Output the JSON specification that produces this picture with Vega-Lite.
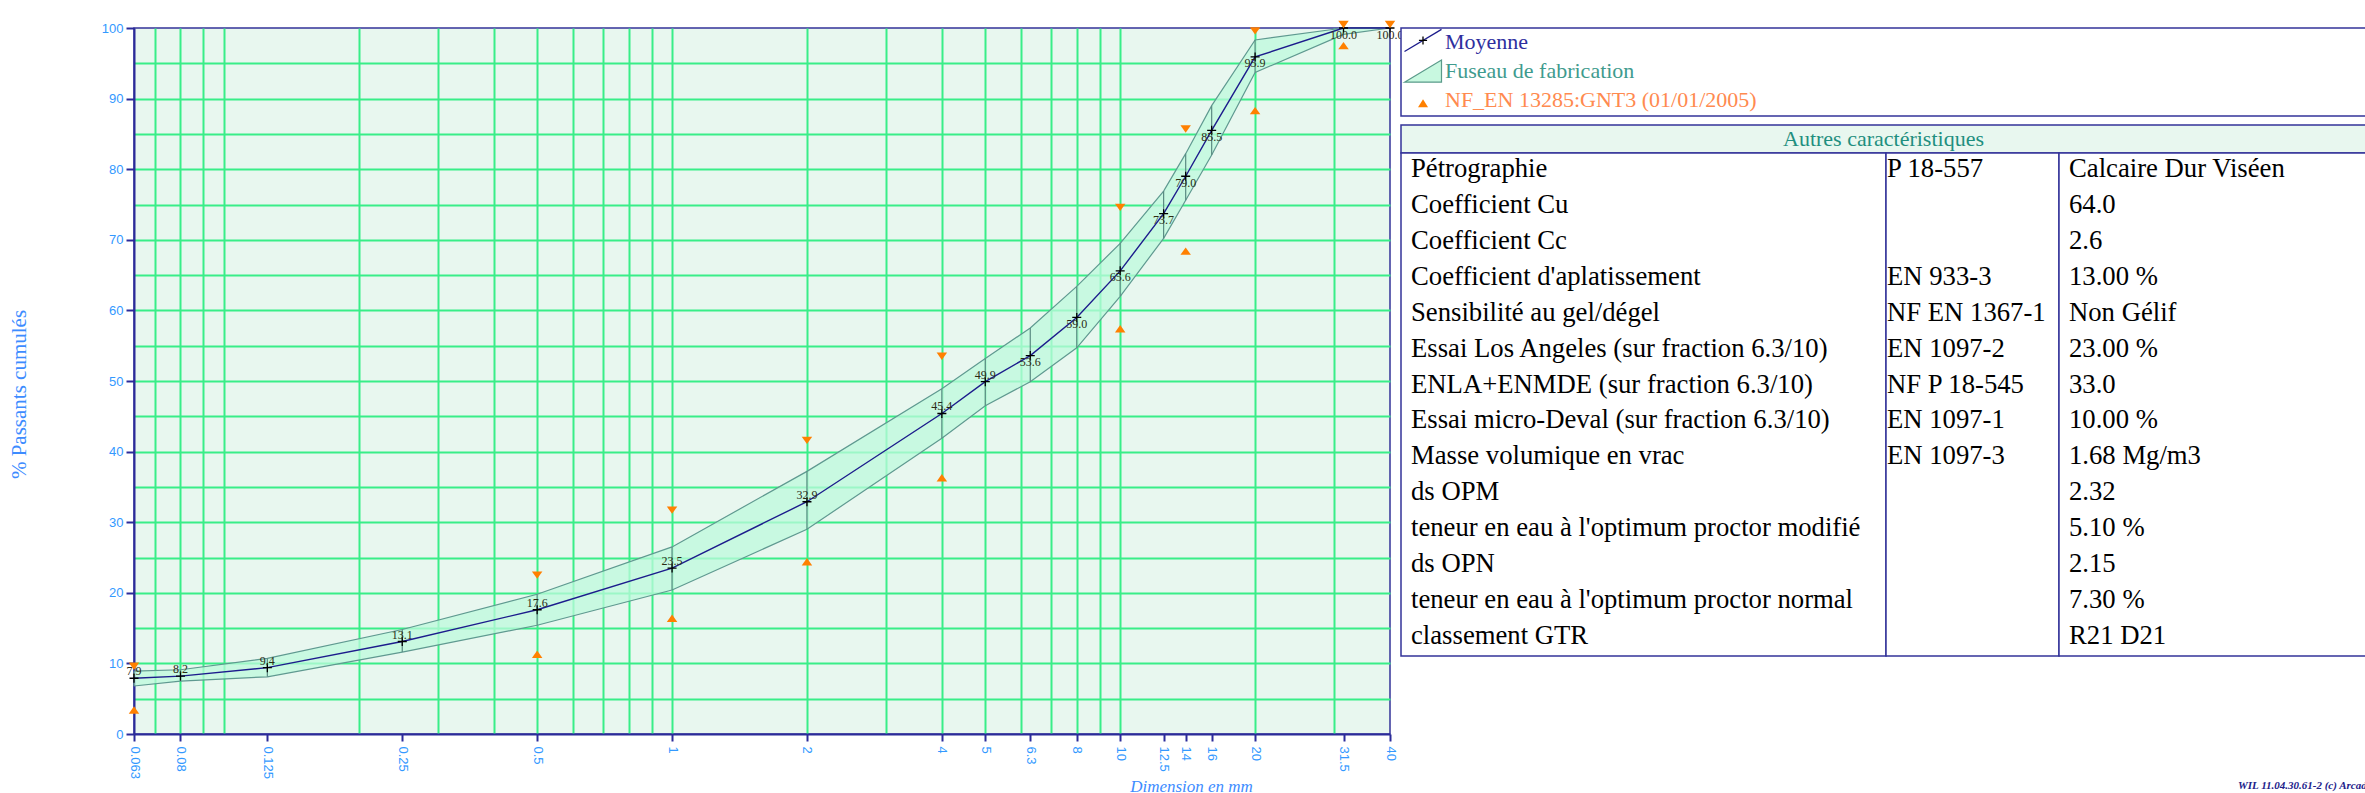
{
  "$schema": "https://vega.github.io/schema/vega-lite/v6.json",
  "background": "white",
  "padding": {"left": 7, "top": 20, "right": 0, "bottom": 0},
  "config": {"view": {"stroke": null}},
  "datasets": {
    "g": [
      {"d": 0.063, "moy": 7.9, "inf": 6.8, "sup": 8.9},
      {"d": 0.08, "moy": 8.2, "inf": 7.5, "sup": 9.1},
      {"d": 0.125, "moy": 9.4, "inf": 8.1, "sup": 10.7},
      {"d": 0.25, "moy": 13.1, "inf": 11.6, "sup": 14.8},
      {"d": 0.5, "moy": 17.6, "inf": 15.4, "sup": 19.8},
      {"d": 1, "moy": 23.5, "inf": 20.4, "sup": 26.5},
      {"d": 2, "moy": 32.9, "inf": 29.0, "sup": 37.2},
      {"d": 4, "moy": 45.4, "inf": 41.9, "sup": 48.9},
      {"d": 5, "moy": 49.9, "inf": 46.5, "sup": 53.2},
      {"d": 6.3, "moy": 53.6, "inf": 49.9, "sup": 57.5},
      {"d": 8, "moy": 59.0, "inf": 54.7, "sup": 63.4},
      {"d": 10, "moy": 65.6, "inf": 62.0, "sup": 69.5},
      {"d": 12.5, "moy": 73.7, "inf": 70.2, "sup": 76.9},
      {"d": 14, "moy": 79.0, "inf": 75.6, "sup": 82.2},
      {"d": 16, "moy": 85.5, "inf": 82.0, "sup": 89.0},
      {"d": 20, "moy": 95.9, "inf": 93.7, "sup": 98.3},
      {"d": 31.5, "moy": 100.0, "inf": 99.1, "sup": 100},
      {"d": 40, "moy": 100.0, "inf": 100, "sup": 100}
    ],
    "lim": [
      {"d": 0.063, "lim": 9.6, "t": "max"}, {"d": 0.063, "lim": 3.4, "t": "min"},
      {"d": 0.5, "lim": 22.5, "t": "max"}, {"d": 0.5, "lim": 11.3, "t": "min"},
      {"d": 1, "lim": 31.7, "t": "max"}, {"d": 1, "lim": 16.4, "t": "min"},
      {"d": 2, "lim": 41.6, "t": "max"}, {"d": 2, "lim": 24.4, "t": "min"},
      {"d": 4, "lim": 53.5, "t": "max"}, {"d": 4, "lim": 36.3, "t": "min"},
      {"d": 10, "lim": 74.6, "t": "max"}, {"d": 10, "lim": 57.4, "t": "min"},
      {"d": 14, "lim": 85.7, "t": "max"}, {"d": 14, "lim": 68.4, "t": "min"},
      {"d": 20, "lim": 99.6, "t": "max"}, {"d": 20, "lim": 88.3, "t": "min"},
      {"d": 31.5, "lim": 100.5, "t": "max"}, {"d": 31.5, "lim": 97.5, "t": "min"},
      {"d": 40, "lim": 100.5, "t": "max"}
    ],
    "leg": [
      {"e": "Moyenne"},
      {"e": "Fuseau de fabrication"},
      {"e": "NF_EN 13285:GNT3 (01/01/2005)"}
    ],
    "tab": [
      {"i": 1, "nom": "Pétrographie", "norme": "P 18-557", "val": "Calcaire Dur Viséen"},
      {"i": 2, "nom": "Coefficient Cu", "norme": "", "val": "64.0"},
      {"i": 3, "nom": "Coefficient Cc", "norme": "", "val": "2.6"},
      {"i": 4, "nom": "Coefficient d'aplatissement", "norme": "EN 933-3", "val": "13.00 %"},
      {"i": 5, "nom": "Sensibilité au gel/dégel", "norme": "NF EN 1367-1", "val": "Non Gélif"},
      {"i": 6, "nom": "Essai Los Angeles (sur fraction 6.3/10)", "norme": "EN 1097-2", "val": "23.00 %"},
      {"i": 7, "nom": "ENLA+ENMDE (sur fraction 6.3/10)", "norme": "NF P 18-545", "val": "33.0"},
      {"i": 8, "nom": "Essai micro-Deval (sur fraction 6.3/10)", "norme": "EN 1097-1", "val": "10.00 %"},
      {"i": 9, "nom": "Masse volumique en vrac", "norme": "EN 1097-3", "val": "1.68 Mg/m3"},
      {"i": 10, "nom": "ds OPM", "norme": "", "val": "2.32"},
      {"i": 11, "nom": "teneur en eau à l'optimum proctor modifié", "norme": "", "val": "5.10 %"},
      {"i": 12, "nom": "ds OPN", "norme": "", "val": "2.15"},
      {"i": 13, "nom": "teneur en eau à l'optimum proctor normal", "norme": "", "val": "7.30 %"},
      {"i": 14, "nom": "classement GTR", "norme": "", "val": "R21 D21"}
    ]
  },
  "title": {
    "text": "WIL 11.04.30.61-2 (c) Arcad",
    "orient": "bottom", "anchor": "end", "offset": -6, "baseline": "alphabetic",
    "font": "Liberation Serif", "fontSize": 11, "fontStyle": "italic", "fontWeight": "bold", "color": "#22228a"
  },
  "bounds": "flush",
  "spacing": 11,
  "hconcat": [
    {
      "width": 1256,
      "height": 706,
      "view": {"fill": "#e8f7ef", "stroke": "#333399", "strokeWidth": 1.5},
      "data": {"name": "g"},
      "resolve": {"axis": {"x": "independent", "y": "independent"}},
      "layer": [
        {
          "mark": {"type": "area", "fill": "#bdfadc", "fillOpacity": 0.75},
          "encoding": {
            "x": {"field": "d", "type": "quantitative",
                  "scale": {"type": "log", "domain": [0.063, 40], "nice": false},
                  "axis": {"orient": "top", "values": [0.07, 0.08, 0.09, 0.1, 0.2, 0.3, 0.4, 0.5, 0.6, 0.7, 0.8, 0.9, 1, 2, 3, 4, 5, 6, 7, 8, 9, 10, 20, 30],
                           "grid": true, "gridColor": "#38ee88", "gridWidth": 2, "gridOpacity": 1,
                           "labels": false, "ticks": false, "domain": false, "title": null}},
            "y": {"field": "sup", "type": "quantitative",
                  "scale": {"domain": [0, 100], "nice": false, "zero": false},
                  "axis": {"orient": "right", "values": [5, 10, 15, 20, 25, 30, 35, 40, 45, 50, 55, 60, 65, 70, 75, 80, 85, 90, 95],
                           "grid": true, "gridColor": "#38ee88", "gridWidth": 2, "gridOpacity": 1,
                           "labels": false, "ticks": false, "domain": false, "title": null}},
            "y2": {"field": "inf"}
          }
        },
        {
          "mark": {"type": "line", "stroke": "#5f9990", "strokeWidth": 1.2},
          "encoding": {
            "x": {"field": "d", "type": "quantitative", "scale": {"type": "log", "domain": [0.063, 40], "nice": false}, "axis": null},
            "y": {"field": "sup", "type": "quantitative", "scale": {"domain": [0, 100], "nice": false, "zero": false}, "axis": null}
          }
        },
        {
          "mark": {"type": "line", "stroke": "#5f9990", "strokeWidth": 1.2},
          "encoding": {
            "x": {"field": "d", "type": "quantitative", "scale": {"type": "log", "domain": [0.063, 40], "nice": false}, "axis": null},
            "y": {"field": "inf", "type": "quantitative", "scale": {"domain": [0, 100], "nice": false, "zero": false}, "axis": null}
          }
        },
        {
          "mark": {"type": "rule", "stroke": "#5a8a82", "strokeWidth": 1.2},
          "encoding": {
            "x": {"field": "d", "type": "quantitative", "scale": {"type": "log", "domain": [0.063, 40], "nice": false}, "axis": null},
            "y": {"field": "inf", "type": "quantitative", "scale": {"domain": [0, 100], "nice": false, "zero": false}, "axis": null},
            "y2": {"field": "sup"}
          }
        },
        {
          "mark": {"type": "line", "stroke": "#1c1c8c", "strokeWidth": 1.4},
          "encoding": {
            "x": {"field": "d", "type": "quantitative",
                  "scale": {"type": "log", "domain": [0.063, 40], "nice": false},
                  "axis": {"orient": "bottom", "values": [0.063, 0.08, 0.125, 0.25, 0.5, 1, 2, 4, 5, 6.3, 8, 10, 12.5, 14, 16, 20, 31.5, 40],
                           "format": "~g", "grid": false, "labelAngle": 90, "labelFont": "Liberation Sans", "labelFontSize": 13,
                           "labelColor": "#3399ff", "labelPadding": 5, "labelFlush": false, "labelOverlap": false, "labelBound": false,
                           "tickColor": "#2b2b99", "tickSize": 7, "tickWidth": 2, "domainColor": "#2b2b99", "domainWidth": 2,
                           "title": "Dimension en mm", "titleFont": "Liberation Serif", "titleFontStyle": "italic", "titleFontWeight": "normal",
                           "titleFontSize": 17, "titleColor": "#3d8cff", "titleX": 1057, "titleY": 57.5,
                           "titleAlign": "center", "titleBaseline": "alphabetic"}},
            "y": {"field": "moy", "type": "quantitative",
                  "scale": {"domain": [0, 100], "nice": false, "zero": false},
                  "axis": {"orient": "left", "values": [0, 10, 20, 30, 40, 50, 60, 70, 80, 90, 100], "grid": false,
                           "labelFont": "Liberation Sans", "labelFontSize": 13, "labelColor": "#3399ff", "labelPadding": 3,
                           "tickColor": "#2b2b99", "tickSize": 8, "tickWidth": 2, "domainColor": "#2b2b99", "domainWidth": 2,
                           "title": "% Passants cumulés", "titleFont": "Liberation Serif", "titleFontSize": 21, "titleFontWeight": "normal",
                           "titleColor": "#3d8cff", "titleAngle": 270, "titleX": -109, "titleY": 366,
                           "titleAlign": "center", "titleBaseline": "alphabetic"}}
          }
        },
        {
          "mark": {"type": "point", "shape": "M-1,0L1,0M0,-1L0,1", "filled": false, "stroke": "#000000", "strokeWidth": 1.3, "size": 81, "opacity": 1},
          "encoding": {
            "x": {"field": "d", "type": "quantitative", "scale": {"type": "log", "domain": [0.063, 40], "nice": false}, "axis": null},
            "y": {"field": "moy", "type": "quantitative", "scale": {"domain": [0, 100], "nice": false, "zero": false}, "axis": null}
          }
        },
        {
          "transform": [{"filter": "datum.moy < 50"}],
          "mark": {"type": "text", "align": "center", "baseline": "alphabetic", "dy": -3, "font": "Liberation Serif", "fontSize": 12, "color": "#2b2b14"},
          "encoding": {
            "x": {"field": "d", "type": "quantitative", "scale": {"type": "log", "domain": [0.063, 40], "nice": false}, "axis": null},
            "y": {"field": "moy", "type": "quantitative", "scale": {"domain": [0, 100], "nice": false, "zero": false}, "axis": null},
            "text": {"field": "moy", "type": "quantitative", "format": ".1f"}
          }
        },
        {
          "transform": [{"filter": "datum.moy >= 50"}],
          "mark": {"type": "text", "align": "center", "baseline": "alphabetic", "dy": 10.5, "font": "Liberation Serif", "fontSize": 12, "color": "#2b2b14"},
          "encoding": {
            "x": {"field": "d", "type": "quantitative", "scale": {"type": "log", "domain": [0.063, 40], "nice": false}, "axis": null},
            "y": {"field": "moy", "type": "quantitative", "scale": {"domain": [0, 100], "nice": false, "zero": false}, "axis": null},
            "text": {"field": "moy", "type": "quantitative", "format": ".1f"}
          }
        },
        {
          "data": {"name": "lim"},
          "mark": {"type": "point", "filled": true, "size": 110, "opacity": 1, "color": "#ff8000"},
          "encoding": {
            "x": {"field": "d", "type": "quantitative", "scale": {"type": "log", "domain": [0.063, 40], "nice": false}, "axis": null},
            "y": {"field": "lim", "type": "quantitative", "scale": {"domain": [0, 100], "nice": false, "zero": false}, "axis": null},
            "shape": {"field": "t", "type": "nominal", "legend": null,
                      "scale": {"domain": ["max", "min"], "range": ["M-1,-0.7L1,-0.7L0,0.7Z", "M0,-0.7L1,0.7L-1,0.7Z"]}}
          }
        }
      ]
    },
    {
      "bounds": "flush",
      "spacing": 9,
      "vconcat": [
        {
          "width": 965,
          "height": 88,
          "view": {"fill": "white", "stroke": "#333399", "strokeWidth": 1.5},
          "data": {"name": "leg"},
          "encoding": {
            "y": {"field": "e", "type": "nominal", "axis": null,
                  "scale": {"domain": ["Moyenne", "Fuseau de fabrication", "NF_EN 13285:GNT3 (01/01/2005)"], "paddingInner": 0, "paddingOuter": 0}}
          },
          "layer": [
            {
              "transform": [{"filter": "datum.e == 'Moyenne'"}],
              "mark": {"type": "point", "shape": "M-1,0.48L1,-0.72", "filled": false, "stroke": "#1c1c8c", "strokeWidth": 1.3, "size": 1369, "opacity": 1},
              "encoding": {"x": {"datum": "sym", "type": "nominal", "axis": null, "scale": {"type": "point", "domain": ["sym", "txt"], "range": [22, 44], "padding": 0}}}
            },
            {
              "transform": [{"filter": "datum.e == 'Moyenne'"}],
              "mark": {"type": "point", "shape": "M-0.22,-0.12L0.22,-0.12M0,-0.34L0,0.1", "filled": false, "stroke": "#000000", "strokeWidth": 1.3, "size": 1369, "opacity": 1},
              "encoding": {"x": {"datum": "sym", "type": "nominal", "axis": null, "scale": {"type": "point", "domain": ["sym", "txt"], "range": [22, 44], "padding": 0}}}
            },
            {
              "transform": [{"filter": "datum.e == 'Fuseau de fabrication'"}],
              "mark": {"type": "point", "shape": "M-1,0.55L1,-0.65L1,0.55Z", "filled": true, "fill": "#c8f8e0", "stroke": "#5a9a8a", "strokeWidth": 1.2, "size": 1369, "opacity": 1},
              "encoding": {"x": {"datum": "sym", "type": "nominal", "axis": null, "scale": {"type": "point", "domain": ["sym", "txt"], "range": [22, 44], "padding": 0}}}
            },
            {
              "transform": [{"filter": "datum.e == 'NF_EN 13285:GNT3 (01/01/2005)'"}],
              "mark": {"type": "point", "shape": "M0,-0.4L1,1.2L-1,1.2Z", "filled": true, "fill": "#ff8000", "size": 100, "opacity": 1},
              "encoding": {"x": {"datum": "sym", "type": "nominal", "axis": null, "scale": {"type": "point", "domain": ["sym", "txt"], "range": [22, 44], "padding": 0}}}
            },
            {
              "mark": {"type": "text", "align": "left", "baseline": "alphabetic", "dy": 6, "font": "Liberation Serif", "fontSize": 22},
              "encoding": {
                "x": {"datum": "txt", "type": "nominal", "axis": null, "scale": {"type": "point", "domain": ["sym", "txt"], "range": [22, 44], "padding": 0}},
                "text": {"field": "e"},
                "color": {"field": "e", "type": "nominal", "legend": null,
                          "scale": {"domain": ["Moyenne", "Fuseau de fabrication", "NF_EN 13285:GNT3 (01/01/2005)"], "range": ["#2e2e9e", "#3f9b8e", "#ff8a4f"]}}
              }
            }
          ]
        },
        {
          "bounds": "flush",
          "spacing": 0,
          "vconcat": [
            {
              "width": 965,
              "height": 28,
              "view": {"fill": "#e8f7ef", "stroke": "#333399", "strokeWidth": 1.5},
              "data": {"values": [{"t": "Autres caractéristiques"}]},
              "mark": {"type": "text", "align": "center", "baseline": "alphabetic", "dy": 7, "font": "Liberation Serif", "fontSize": 22, "color": "#1f8f80"},
              "encoding": {"text": {"field": "t"}}
            },
            {
              "bounds": "flush",
              "spacing": 0,
              "hconcat": [
                {
                  "width": 485,
                  "height": 503,
                  "view": {"fill": "white", "stroke": "#333399", "strokeWidth": 1.5},
                  "data": {"name": "tab"},
                  "mark": {"type": "text", "align": "left", "baseline": "alphabetic", "dy": 6, "font": "Liberation Serif", "fontSize": 26.7, "color": "#000000"},
                  "encoding": {
                    "y": {"field": "i", "type": "ordinal", "axis": null, "scale": {"paddingInner": 0, "paddingOuter": 0}},
                    "x": {"datum": "c", "type": "nominal", "axis": null, "scale": {"type": "point", "domain": ["c"], "range": [10, 10], "padding": 0}},
                    "text": {"field": "nom"}
                  }
                },
                {
                  "width": 173,
                  "height": 503,
                  "view": {"fill": "white", "stroke": "#333399", "strokeWidth": 1.5},
                  "data": {"name": "tab"},
                  "mark": {"type": "text", "align": "left", "baseline": "alphabetic", "dy": 6, "font": "Liberation Serif", "fontSize": 26.7, "color": "#000000"},
                  "encoding": {
                    "y": {"field": "i", "type": "ordinal", "axis": null, "scale": {"paddingInner": 0, "paddingOuter": 0}},
                    "x": {"datum": "c", "type": "nominal", "axis": null, "scale": {"type": "point", "domain": ["c"], "range": [1, 1], "padding": 0}},
                    "text": {"field": "norme"}
                  }
                },
                {
                  "width": 307,
                  "height": 503,
                  "view": {"fill": "white", "stroke": "#333399", "strokeWidth": 1.5},
                  "data": {"name": "tab"},
                  "mark": {"type": "text", "align": "left", "baseline": "alphabetic", "dy": 6, "font": "Liberation Serif", "fontSize": 26.7, "color": "#000000"},
                  "encoding": {
                    "y": {"field": "i", "type": "ordinal", "axis": null, "scale": {"paddingInner": 0, "paddingOuter": 0}},
                    "x": {"datum": "c", "type": "nominal", "axis": null, "scale": {"type": "point", "domain": ["c"], "range": [10, 10], "padding": 0}},
                    "text": {"field": "val"}
                  }
                }
              ]
            }
          ]
        }
      ]
    }
  ]
}
